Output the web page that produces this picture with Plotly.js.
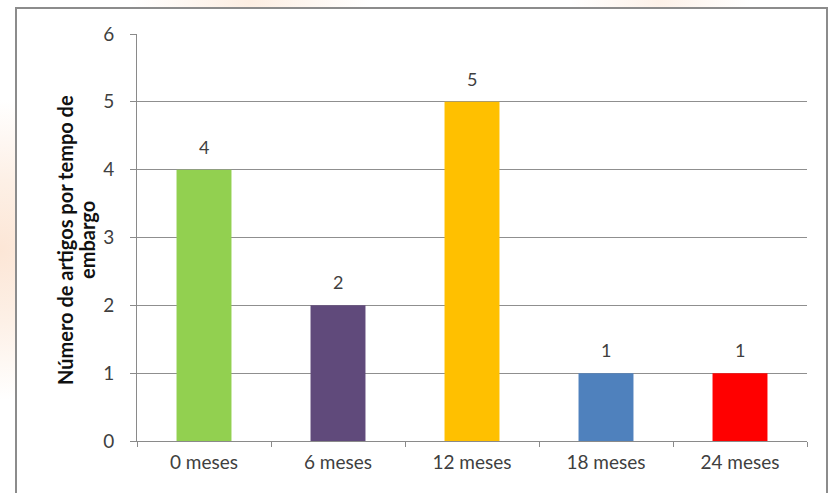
<!DOCTYPE html>
<html>
<head>
<meta charset="utf-8">
<script src="https://cdn.plot.ly/plotly-3.0.1.min.js"></script>
<style>
  html, body { margin: 0; padding: 0; background: #ffffff; }
  #wrap { position: relative; width: 832px; height: 493px; overflow: hidden;
          background:
            radial-gradient(circle at 0px 250px, #fce6d6 0px, #fdf0e6 70px, rgba(255,255,255,0) 150px),
            radial-gradient(ellipse at 250px 0px, #fdeee2 0px, rgba(255,255,255,0) 120px),
            radial-gradient(ellipse at 660px 0px, #fdf1e8 0px, rgba(255,255,255,0) 90px),
            #ffffff; }
  #frame { position: absolute; left: 15px; top: 7px; width: 813px; height: 500px;
           border: 2px solid #8c8c8c; background: #ffffff; box-sizing: border-box; }
  #chart { position: absolute; left: 0; top: 0; width: 832px; height: 493px; }
</style>
</head>
<body>
<div id="wrap">
  <div id="frame"></div>
  <div id="chart"></div>
</div>
<script>
const categories = ["0 meses", "6 meses", "12 meses", "18 meses", "24 meses"];
const values = [4, 2, 5, 1, 1];
const barColors = ["#92D050", "#604A7B", "#FFC000", "#4F81BD", "#FF0000"];
const yTicks = [0, 1, 2, 3, 4, 5, 6];
const yTitleLines = ["Número de artigos por tempo de", "embargo"];

const font = "Lato, Carlito, 'Open Sans', sans-serif";
const textColor = "#3f3f3f";

const trace = {
  type: "bar",
  x: categories,
  y: values,
  marker: { color: barColors, line: { width: 0 } },
  width: 0.41,
  hoverinfo: "none"
};

const labelAnnotations = categories.map((c, i) => ({
  x: c, y: values[i], xref: "x", yref: "y",
  text: String(values[i]), showarrow: false,
  yanchor: "bottom", yshift: 10,
  font: { family: font, size: 18, color: textColor }
}));

const titleX = [65, 87];
const titleAnnotations = yTitleLines.map((t, i) => ({
  xref: "paper", yref: "paper",
  x: (titleX[i] - 137) / 670, y: 1 - (240 - 34) / 407,
  xanchor: "center", yanchor: "middle",
  text: t, showarrow: false, textangle: -90,
  font: { family: font, size: 20, color: "#111111", weight: "bold" }
}));

const layout = {
  width: 832, height: 493,
  margin: { l: 137, r: 25, t: 34, b: 52 },
  paper_bgcolor: "rgba(0,0,0,0)",
  plot_bgcolor: "#ffffff",
  showlegend: false,
  xaxis: {
    type: "category",
    tickson: "boundaries",
    ticks: "outside", ticklen: 5, tickcolor: "#8a8a8a", tickwidth: 1,
    showline: true, linecolor: "#8a8a8a", linewidth: 1,
    showgrid: false,
    tickfont: { family: font, size: 19, color: textColor },
    ticklabelstandoff: 4,
    fixedrange: true
  },
  yaxis: {
    range: [0, 6],
    tickvals: yTicks,
    ticks: "outside", ticklen: 6, tickcolor: "#8a8a8a", tickwidth: 1,
    showline: true, linecolor: "#8a8a8a", linewidth: 1,
    showgrid: true, gridcolor: "#8f8f8f", gridwidth: 1,
    zeroline: false,
    tickfont: { family: font, size: 19, color: textColor },
    ticklabelstandoff: 12,
    fixedrange: true
  },
  annotations: labelAnnotations.concat(titleAnnotations)
};

Plotly.newPlot("chart", [trace], layout, { displayModeBar: false, staticPlot: true });
</script>
</body>
</html>
